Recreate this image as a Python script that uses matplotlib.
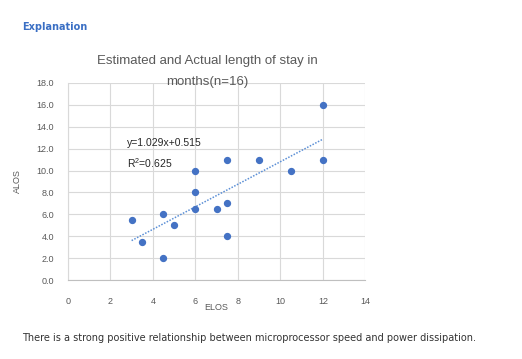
import numpy as np
import matplotlib.pyplot as plt

elos = [3, 3.5, 4.5, 4.5, 5, 6, 6, 6, 7, 7.5, 7.5, 7.5, 9, 10.5, 12, 12]
alos = [5.5, 3.5, 6, 2, 5, 10, 8, 6.5, 6.5, 11, 7, 4, 11, 10, 16, 11]
slope, intercept = 1.029, 0.515
xticks = [0, 2, 4, 6, 8, 10, 12, 14]
yticks = [0, 2, 4, 6, 8, 10, 12, 14, 16, 18]

plt.rcParams['font.family'] = ['Liberation Sans Narrow', 'Liberation Sans', 'DejaVu Sans']

fig = plt.figure(figsize=(5.22, 3.59), dpi=100)
ax = fig.add_axes([0.130, 0.220, 0.570, 0.549])

ax.scatter(elos, alos, s=18, color='#4472c4', zorder=3)
tx = np.array([min(elos), max(elos)])
ax.plot(tx, slope * tx + intercept, ls=(0, (1, 1)), color='#5b8fd6', lw=1.1, zorder=2)

ax.set_xlim(0, 14)
ax.set_ylim(0, 18)
ax.set_xticks(xticks)
ax.set_yticks(yticks)
ax.set_yticklabels([f'{v:.1f}' for v in yticks])
ax.grid(color='#d9d9d9', lw=0.8)
ax.set_axisbelow(True)
for s in ['top', 'right']:
    ax.spines[s].set_visible(False)
ax.spines['bottom'].set_color('#bfbfbf')
ax.spines['left'].set_color('#d9d9d9')
ax.tick_params(axis='y', length=0, labelsize=6.5, colors='#595959', pad=10)
ax.tick_params(axis='x', length=0, labelsize=6.5, colors='#595959', pad=12)

ax.set_xlabel('ELOS', fontsize=6.5, color='#595959', labelpad=-2)
ax.set_ylabel('ALOS', fontsize=6.5, color='#595959', labelpad=10)
fig.text(0.398, 0.83, 'Estimated and Actual length of stay in', fontsize=9.5,
         color='#595959', ha='center', va='center')
fig.text(0.398, 0.772, 'months(n=16)', fontsize=9.5,
         color='#595959', ha='center', va='center')

ax.text(2.8, 12.5, f'y={slope}x+{intercept}', fontsize=7.5, color='#262626',
        va='center')
ax.text(2.8, 10.7, '$\\mathregular{R^2}$=0.625', fontsize=7.5, color='#262626',
        va='center')

fig.text(0.042, 0.925, 'Explanation', fontsize=7, color='#3a6fc4', weight='bold',
         family='DejaVu Sans', va='center')
fig.text(0.042, 0.05, 'There is a strong positive relationship between microprocessor speed and power dissipation.',
         fontsize=7, color='#333333', family='DejaVu Sans')

fig.savefig('out.png', dpi=100)
